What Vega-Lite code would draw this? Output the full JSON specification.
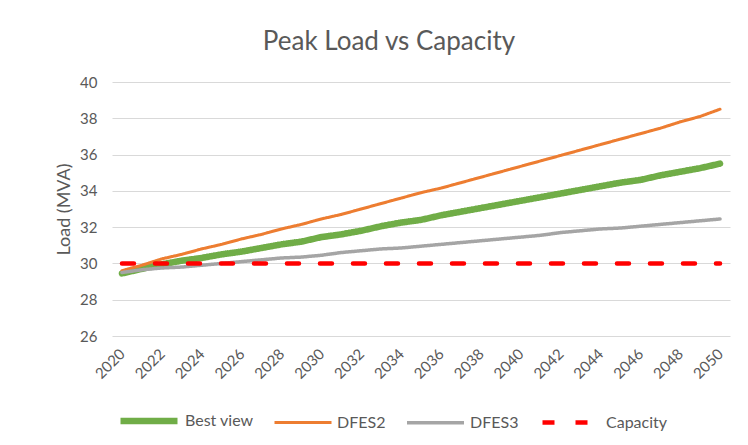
{
  "$schema": "https://vega.github.io/schema/vega-lite/v6.json",
  "autosize": "none",
  "width": 618,
  "height": 254,
  "padding": {"left": 112, "top": 82, "right": 18, "bottom": 109},
  "background": "white",
  "title": {"text": "Peak Load vs Capacity", "fontSize": 26, "font": "Lato", "fontWeight": "normal", "color": "#595959", "anchor": "middle", "frame": "group", "offset": 20, "dx": -32},
  "config": {
    "font": "Lato",
    "view": {"stroke": null},
    "axis": {"labelColor": "#595959", "titleColor": "#595959", "labelFont": "Lato", "titleFont": "Lato"}
  },
  "data": {"values": [
    {"year": 2020, "series": "Best view", "load": 29.45},
    {"year": 2021, "series": "Best view", "load": 29.7},
    {"year": 2022, "series": "Best view", "load": 29.95},
    {"year": 2023, "series": "Best view", "load": 30.15},
    {"year": 2024, "series": "Best view", "load": 30.3},
    {"year": 2025, "series": "Best view", "load": 30.5},
    {"year": 2026, "series": "Best view", "load": 30.65},
    {"year": 2027, "series": "Best view", "load": 30.85},
    {"year": 2028, "series": "Best view", "load": 31.05},
    {"year": 2029, "series": "Best view", "load": 31.2},
    {"year": 2030, "series": "Best view", "load": 31.45},
    {"year": 2031, "series": "Best view", "load": 31.6},
    {"year": 2032, "series": "Best view", "load": 31.8},
    {"year": 2033, "series": "Best view", "load": 32.05},
    {"year": 2034, "series": "Best view", "load": 32.25},
    {"year": 2035, "series": "Best view", "load": 32.4},
    {"year": 2036, "series": "Best view", "load": 32.65},
    {"year": 2037, "series": "Best view", "load": 32.85},
    {"year": 2038, "series": "Best view", "load": 33.05},
    {"year": 2039, "series": "Best view", "load": 33.25},
    {"year": 2040, "series": "Best view", "load": 33.45},
    {"year": 2041, "series": "Best view", "load": 33.65},
    {"year": 2042, "series": "Best view", "load": 33.85},
    {"year": 2043, "series": "Best view", "load": 34.05},
    {"year": 2044, "series": "Best view", "load": 34.25},
    {"year": 2045, "series": "Best view", "load": 34.45},
    {"year": 2046, "series": "Best view", "load": 34.6},
    {"year": 2047, "series": "Best view", "load": 34.85},
    {"year": 2048, "series": "Best view", "load": 35.05},
    {"year": 2049, "series": "Best view", "load": 35.25},
    {"year": 2050, "series": "Best view", "load": 35.5},
    {"year": 2020, "series": "DFES2", "load": 29.6},
    {"year": 2021, "series": "DFES2", "load": 29.9},
    {"year": 2022, "series": "DFES2", "load": 30.25},
    {"year": 2023, "series": "DFES2", "load": 30.5},
    {"year": 2024, "series": "DFES2", "load": 30.8},
    {"year": 2025, "series": "DFES2", "load": 31.05},
    {"year": 2026, "series": "DFES2", "load": 31.35},
    {"year": 2027, "series": "DFES2", "load": 31.6},
    {"year": 2028, "series": "DFES2", "load": 31.9},
    {"year": 2029, "series": "DFES2", "load": 32.15},
    {"year": 2030, "series": "DFES2", "load": 32.45},
    {"year": 2031, "series": "DFES2", "load": 32.7},
    {"year": 2032, "series": "DFES2", "load": 33.0},
    {"year": 2033, "series": "DFES2", "load": 33.3},
    {"year": 2034, "series": "DFES2", "load": 33.6},
    {"year": 2035, "series": "DFES2", "load": 33.9},
    {"year": 2036, "series": "DFES2", "load": 34.15},
    {"year": 2037, "series": "DFES2", "load": 34.45},
    {"year": 2038, "series": "DFES2", "load": 34.75},
    {"year": 2039, "series": "DFES2", "load": 35.05},
    {"year": 2040, "series": "DFES2", "load": 35.35},
    {"year": 2041, "series": "DFES2", "load": 35.65},
    {"year": 2042, "series": "DFES2", "load": 35.95},
    {"year": 2043, "series": "DFES2", "load": 36.25},
    {"year": 2044, "series": "DFES2", "load": 36.55},
    {"year": 2045, "series": "DFES2", "load": 36.85},
    {"year": 2046, "series": "DFES2", "load": 37.15},
    {"year": 2047, "series": "DFES2", "load": 37.45},
    {"year": 2048, "series": "DFES2", "load": 37.8},
    {"year": 2049, "series": "DFES2", "load": 38.1},
    {"year": 2050, "series": "DFES2", "load": 38.5},
    {"year": 2020, "series": "DFES3", "load": 29.5},
    {"year": 2021, "series": "DFES3", "load": 29.65},
    {"year": 2022, "series": "DFES3", "load": 29.75},
    {"year": 2023, "series": "DFES3", "load": 29.8},
    {"year": 2024, "series": "DFES3", "load": 29.9},
    {"year": 2025, "series": "DFES3", "load": 30.0},
    {"year": 2026, "series": "DFES3", "load": 30.1},
    {"year": 2027, "series": "DFES3", "load": 30.2},
    {"year": 2028, "series": "DFES3", "load": 30.3},
    {"year": 2029, "series": "DFES3", "load": 30.35},
    {"year": 2030, "series": "DFES3", "load": 30.45},
    {"year": 2031, "series": "DFES3", "load": 30.6},
    {"year": 2032, "series": "DFES3", "load": 30.7},
    {"year": 2033, "series": "DFES3", "load": 30.8},
    {"year": 2034, "series": "DFES3", "load": 30.85},
    {"year": 2035, "series": "DFES3", "load": 30.95},
    {"year": 2036, "series": "DFES3", "load": 31.05},
    {"year": 2037, "series": "DFES3", "load": 31.15},
    {"year": 2038, "series": "DFES3", "load": 31.25},
    {"year": 2039, "series": "DFES3", "load": 31.35},
    {"year": 2040, "series": "DFES3", "load": 31.45},
    {"year": 2041, "series": "DFES3", "load": 31.55},
    {"year": 2042, "series": "DFES3", "load": 31.7},
    {"year": 2043, "series": "DFES3", "load": 31.8},
    {"year": 2044, "series": "DFES3", "load": 31.9},
    {"year": 2045, "series": "DFES3", "load": 31.95},
    {"year": 2046, "series": "DFES3", "load": 32.05},
    {"year": 2047, "series": "DFES3", "load": 32.15},
    {"year": 2048, "series": "DFES3", "load": 32.25},
    {"year": 2049, "series": "DFES3", "load": 32.35},
    {"year": 2050, "series": "DFES3", "load": 32.45},
    {"year": 2020, "series": "Capacity", "load": 30},
    {"year": 2021, "series": "Capacity", "load": 30},
    {"year": 2022, "series": "Capacity", "load": 30},
    {"year": 2023, "series": "Capacity", "load": 30},
    {"year": 2024, "series": "Capacity", "load": 30},
    {"year": 2025, "series": "Capacity", "load": 30},
    {"year": 2026, "series": "Capacity", "load": 30},
    {"year": 2027, "series": "Capacity", "load": 30},
    {"year": 2028, "series": "Capacity", "load": 30},
    {"year": 2029, "series": "Capacity", "load": 30},
    {"year": 2030, "series": "Capacity", "load": 30},
    {"year": 2031, "series": "Capacity", "load": 30},
    {"year": 2032, "series": "Capacity", "load": 30},
    {"year": 2033, "series": "Capacity", "load": 30},
    {"year": 2034, "series": "Capacity", "load": 30},
    {"year": 2035, "series": "Capacity", "load": 30},
    {"year": 2036, "series": "Capacity", "load": 30},
    {"year": 2037, "series": "Capacity", "load": 30},
    {"year": 2038, "series": "Capacity", "load": 30},
    {"year": 2039, "series": "Capacity", "load": 30},
    {"year": 2040, "series": "Capacity", "load": 30},
    {"year": 2041, "series": "Capacity", "load": 30},
    {"year": 2042, "series": "Capacity", "load": 30},
    {"year": 2043, "series": "Capacity", "load": 30},
    {"year": 2044, "series": "Capacity", "load": 30},
    {"year": 2045, "series": "Capacity", "load": 30},
    {"year": 2046, "series": "Capacity", "load": 30},
    {"year": 2047, "series": "Capacity", "load": 30},
    {"year": 2048, "series": "Capacity", "load": 30},
    {"year": 2049, "series": "Capacity", "load": 30},
    {"year": 2050, "series": "Capacity", "load": 30}
  ]},
  "mark": {"type": "line", "strokeCap": "round", "strokeJoin": "round"},
  "encoding": {
    "x": {
      "field": "year", "type": "ordinal",
      "scale": {"type": "point", "padding": 0.5},
      "axis": {
        "title": null,
        "values": [2020, 2022, 2024, 2026, 2028, 2030, 2032, 2034, 2036, 2038, 2040, 2042, 2044, 2046, 2048, 2050],
        "labelAngle": -45, "labelAlign": "right", "labelBaseline": "middle",
        "labelFontSize": 15, "labelPadding": 15,
        "ticks": false, "domain": false, "grid": false
      }
    },
    "y": {
      "field": "load", "type": "quantitative",
      "scale": {"domain": [26, 40], "nice": false, "zero": false},
      "axis": {
        "title": "Load (MVA)", "titleFontSize": 18, "titleFontWeight": "normal", "titlePadding": 6,
        "values": [26, 28, 30, 32, 34, 36, 38, 40],
        "labelFontSize": 15, "labelPadding": 15,
        "ticks": false, "domain": false,
        "grid": true, "gridColor": "#d9d9d9", "gridWidth": 1
      }
    },
    "color": {
      "field": "series", "type": "nominal",
      "scale": {"domain": ["Best view", "DFES2", "DFES3", "Capacity"], "range": ["#70ad47", "#ed7d31", "#a5a5a5", "#ff0000"]},
      "legend": {
        "title": null, "orient": "none", "direction": "horizontal",
        "legendX": 5, "legendY": 307,
        "symbolType": "stroke", "symbolSize": 3249,
        "labelFontSize": 16, "labelColor": "#595959", "labelOffset": 4,
        "columnPadding": 14, "padding": 0
      }
    },
    "strokeDash": {
      "field": "series", "type": "nominal",
      "scale": {"domain": ["Best view", "DFES2", "DFES3", "Capacity"], "range": [[1, 0], [1, 0], [1, 0], [12, 21]]},
      "legend": null
    },
    "strokeWidth": {
      "field": "series", "type": "nominal",
      "scale": {"type": "ordinal", "domain": ["Best view", "DFES2", "DFES3", "Capacity"], "range": [6.5, 3, 3.5, 4.5]},
      "legend": null
    },
    "order": {"field": "year", "type": "quantitative"}
  }
}
